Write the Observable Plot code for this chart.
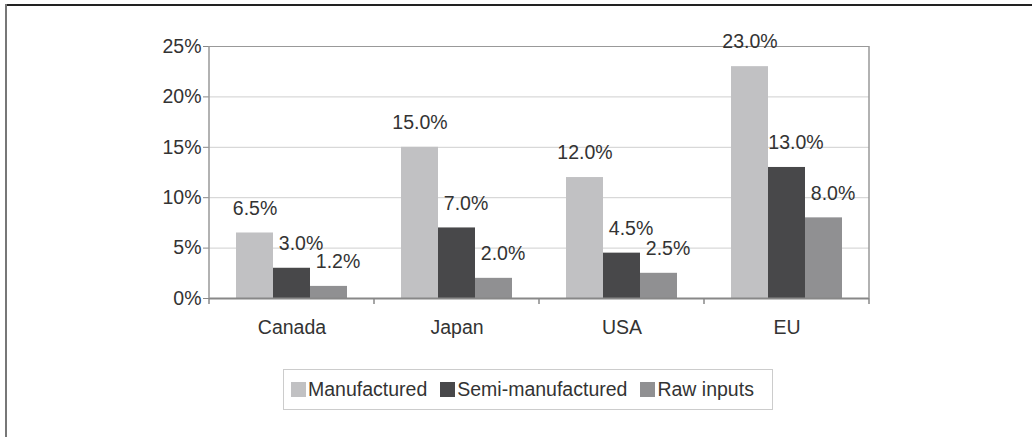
<!DOCTYPE html>
<html><head><meta charset="utf-8">
<script src="https://cdn.jsdelivr.net/npm/d3@7"></script>
<script src="https://cdn.jsdelivr.net/npm/@observablehq/plot@0.6"></script>
<style>
body{margin:0;background:#fff;font-family:"Liberation Sans",Arial,sans-serif;}
#wrap{position:relative;width:1032px;height:437px;overflow:hidden;background:#fff;}
#frameTop{position:absolute;left:5px;top:4px;width:1027px;height:2px;background:#222;}
#frameLeft{position:absolute;left:5px;top:4px;width:2px;height:433px;background:#777;}
#chart{position:absolute;left:0;top:0;}
#legend{position:absolute;left:283px;top:369px;width:481px;height:39px;border:1px solid #ccc;display:flex;align-items:center;padding-left:7px;font-size:19.5px;color:#333;}
.item{display:flex;align-items:center;margin-right:13px;white-space:nowrap}
.sw{width:15px;height:15px;margin-right:2px}
</style></head>
<body>
<div id="wrap">
  <div id="chart"></div>
  <div id="frameTop"></div>
  <div id="frameLeft"></div>
  <div id="legend"></div>
</div>
<script>
const categories = ["Canada", "Japan", "USA", "EU"];
const seriesNames = ["Manufactured", "Semi-manufactured", "Raw inputs"];
const manufactured = [6.5, 15.0, 12.0, 23.0];
const semiManufactured = [3.0, 7.0, 4.5, 13.0];
const rawInputs = [1.2, 2.0, 2.5, 8.0];
const yTicks = [0, 5, 10, 15, 20, 25];
const colors = ["#c1c1c3", "#48484a", "#909092"];

const seriesValues = [manufactured, semiManufactured, rawInputs];
const data = categories.flatMap((c, i) =>
  seriesNames.map((s, j) => ({category: c, series: s, value: seriesValues[j][i]})));

const font = '"Liberation Sans", Arial, sans-serif';
const label = d => d.value.toFixed(1) + "%";

const plot = Plot.plot({
  width: 1032,
  height: 340,
  marginTop: 46,
  marginBottom: 42,
  marginLeft: 208,
  marginRight: 163,
  style: {fontFamily: font, fontSize: "19.5px", color: "#333", background: "transparent", overflow: "visible"},
  fx: {domain: categories, padding: 0, label: null},
  x: {domain: seriesNames, paddingInner: 0, paddingOuter: 0.71, axis: null},
  y: {domain: [0, 25], label: null},
  color: {domain: seriesNames, range: colors},
  marks: [
    Plot.ruleY([5, 10, 15, 20], {stroke: "#cfcfcf"}),
    Plot.ruleY([25], {stroke: "#999"}),
    Plot.barY(data, {fx: "category", x: "series", y: "value", fill: "series"}),
    Plot.ruleY([0], {stroke: "#888", strokeWidth: 2}),
    Plot.text(data.filter(d => d.series === seriesNames[0]),
      {fx: "category", x: "series", y: "value", text: label, dy: -24.5, fill: "#333", fontSize: 19.5}),
    Plot.text(data.filter(d => d.series !== seriesNames[0]),
      {fx: "category", x: "series", y: "value", text: label, dy: -24.5, dx: 9, fill: "#333", fontSize: 19.5}),
    Plot.axisY(yTicks, {tickFormat: d => d + "%", tickSize: 6, tickPadding: 2, stroke: "#888", fill: "#333", label: null, fontSize: 19.5}),
    Plot.axisFx({anchor: "bottom", tickSize: 0, tickPadding: 22, label: null, fill: "#333", fontSize: 19.5})
  ]
});

// decorations from the library's scales: plot-area edges and category boundary ticks
const svg = d3.select(plot);
const fx = plot.scale("fx"), y = plot.scale("y");
const y0 = y.apply(0), yTop = y.apply(25);
const bounds = categories.map(c => fx.apply(c));
bounds.push(fx.apply(categories[categories.length - 1]) + fx.bandwidth);
const g = svg.append("g");
g.selectAll("line.tick").data(bounds).join("line")
  .attr("x1", d => d).attr("x2", d => d).attr("y1", y0).attr("y2", y0 + 6)
  .attr("stroke", "#888").attr("stroke-width", 1.5);
g.selectAll("line.edge").data([bounds[0], bounds[bounds.length - 1]]).join("line")
  .attr("x1", d => d).attr("x2", d => d).attr("y1", yTop).attr("y2", y0)
  .attr("stroke", "#999").attr("stroke-width", 1.5);

document.getElementById("chart").appendChild(plot);

const legend = document.getElementById("legend");
seriesNames.forEach((s, i) => {
  const it = document.createElement("div");
  it.className = "item";
  const sw = document.createElement("div");
  sw.className = "sw";
  sw.style.background = colors[i];
  const t = document.createElement("span");
  t.textContent = s;
  it.appendChild(sw); it.appendChild(t);
  legend.appendChild(it);
});
</script>
</body></html>
